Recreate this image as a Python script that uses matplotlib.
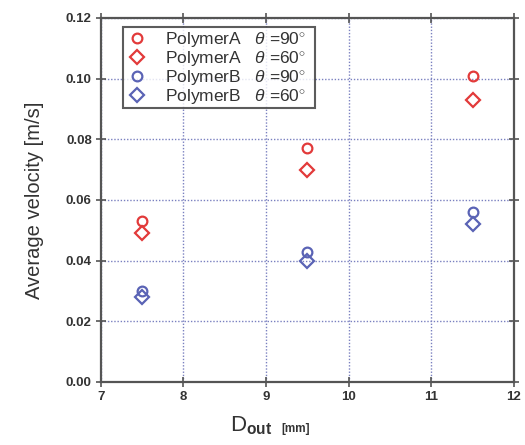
import matplotlib.pyplot as plt

plt.rcParams["font.family"] = ["Liberation Sans", "DejaVu Sans"]
plt.rcParams["mathtext.fontset"] = "custom"
plt.rcParams["mathtext.rm"] = "Liberation Sans"
plt.rcParams["mathtext.it"] = "Liberation Sans:italic"
plt.rcParams["mathtext.bf"] = "Liberation Sans:bold"

# outlet diameter [mm]
d_out = [7.5, 9.5, 11.5]

# average velocity [m/s]
a_90 = [0.053, 0.077, 0.101]
a_60 = [0.049, 0.070, 0.093]
b_90 = [0.030, 0.043, 0.056]
b_60 = [0.028, 0.040, 0.052]

red = "#e23a3a"
blue = "#5a63b5"

fig = plt.figure(figsize=(5.25, 4.45), dpi=100)
ax = fig.add_axes([0.192, 0.1416, 0.787, 0.818])

ax.plot(d_out, a_90, "o", ms=7, mfc="none", mec=red, mew=1.6, label=r"PolymerA   $\theta$ =90$^{\circ}$  ")
ax.plot(d_out, a_60, "D", ms=7, mfc="none", mec=red, mew=1.6, label=r"PolymerA   $\theta$ =60$^{\circ}$  ")
ax.plot(d_out, b_90, "o", ms=7, mfc="none", mec=blue, mew=1.6, label=r"PolymerB   $\theta$ =90$^{\circ}$  ")
ax.plot(d_out, b_60, "D", ms=7, mfc="none", mec=blue, mew=1.6, label=r"PolymerB   $\theta$ =60$^{\circ}$  ")

ax.set_xlim(7, 12)
ax.set_ylim(0, 0.12)
ax.set_xticks([7, 8, 9, 10, 11, 12])
ax.set_yticks([0, 0.02, 0.04, 0.06, 0.08, 0.10, 0.12])
ax.set_yticklabels(["0.00", "0.02", "0.04", "0.06", "0.08", "0.10", "0.12"])
ax.grid(True, color="#7a80c0", linestyle=(0, (1, 1.3)), linewidth=1.0)

for s in ax.spines.values():
    s.set_color("#555555")
    s.set_linewidth(1.6)
ax.tick_params(direction="inout", length=7, width=1.2, color="#555555",
               top=True, right=True, labelsize=9.5, pad=3)
for lbl in ax.get_xticklabels() + ax.get_yticklabels():
    lbl.set_fontweight("bold")
    lbl.set_color("#333333")

ax.set_ylabel("Average velocity [m/s]", fontsize=14.5, color="#333333", labelpad=16)
fig.text(0.518, 0.03, r"D$_{\mathbf{out}}$", fontsize=16, color="#333333", ha="right")
fig.text(0.535, 0.03, "[mm]", fontsize=8.5, fontweight="bold", color="#333333", ha="left")

leg = ax.legend(loc="upper left", bbox_to_anchor=(0.053, 0.975), fontsize=12.5,
                frameon=True, fancybox=False, edgecolor="#333333",
                handlelength=1.4, handletextpad=0.9, borderpad=0.15,
                labelspacing=0.0, borderaxespad=0)
leg.get_frame().set_linewidth(1.5)
for t in leg.get_texts():
    t.set_color("#333333")

fig.savefig("out.png", dpi=100)
